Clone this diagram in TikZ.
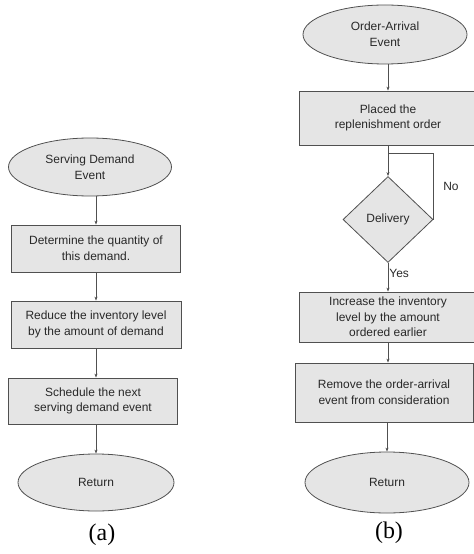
\documentclass[tikz,border=0pt]{standalone}
\usepackage{fontspec}
\setmainfont{Liberation Sans}
\newfontfamily\capfont{Liberation Serif}
\usepackage{tikz}
\usetikzlibrary{shapes.geometric,arrows.meta,positioning}

\definecolor{boxfill}{RGB}{229,229,229}
\definecolor{boxline}{RGB}{80,80,80}
\definecolor{boxtext}{RGB}{40,40,40}

\begin{document}
\begin{tikzpicture}[x=1bp,y=-1bp,
    every node/.style={font=\fontsize{12}{15.7}\selectfont, text=boxtext, align=center, inner sep=0pt},
    event/.style={ellipse, draw=boxline, fill=boxfill, line width=0.8pt},
    procbox/.style={rectangle, draw=boxline, fill=boxfill, line width=0.8pt},
    decide/.style={diamond, draw=boxline, fill=boxfill, line width=0.8pt, minimum width=90bp, minimum height=86bp},
    link/.style={draw=boxline, line width=0.8pt, -{Stealth[length=4pt,width=3pt]}},
    caption/.style={font=\capfont\fontsize{24}{28}\selectfont, text=black}]
    \useasboundingbox (0,0) rectangle (474,554);

    % (a) serving demand event
    \node[event, minimum width=163bp, minimum height=58bp] (serve) at (90,167) {Serving Demand\\Event};
    \node[procbox, minimum width=169bp, minimum height=47bp] (quant) at (96,248.5) {Determine the quantity of\\this demand.};
    \node[procbox, minimum width=170bp, minimum height=47bp] (reduce) at (96,324.5) {Reduce the inventory level\\by the amount of demand};
    \node[procbox, minimum width=169bp, minimum height=46bp] (sched) at (93,401) {Schedule the next\\serving demand event};
    \node[event, minimum width=156bp, minimum height=57bp] (retA) at (96,482.5) {Return};
    \node[caption] (capA) at (102,535) {(a)};

    \draw[link] (serve.south -| quant) -- (quant.north);
    \draw[link] (quant.south -| reduce) -- (reduce.north);
    \draw[link] (reduce.south) -- (reduce.south |- sched.north);
    \draw[link] (sched.south -| retA) -- (retA.north);

    % (b) order-arrival event
    \node[event, minimum width=164bp, minimum height=59bp] (arrive) at (385,34.5) {Order-Arrival\\Event};
    \node[procbox, minimum width=178bp, minimum height=54bp] (place) at (388,118) {Placed the\\replenishment order};
    \node[decide] (dlv) at (388,219.5) {Delivery};
    \coordinate (loop) at (388,153);
    \node[procbox, minimum width=178bp, minimum height=50bp] (incr) at (388,317) {Increase the inventory\\level by the amount\\ordered earlier};
    \node[procbox, minimum width=178bp, minimum height=59bp] (remove) at (384,392.5) {Remove the order-arrival\\event from consideration};
    \node[event, minimum width=164bp, minimum height=61bp] (retB) at (387,482.5) {Return};
    \node[caption] (capB) at (389,533) {(b)};

    \draw[link] (arrive.south -| place) -- (place.north);
    \draw[link] (place.south) -- (dlv.north);
    \draw[draw=boxline, line width=0.8pt] (dlv.east) |- (loop);
    \node (no) at (451,186) {No};
    \draw[link] (dlv.south) -- node[right=1bp, pos=0.38] (yes) {Yes} (incr.north);
    \draw[link] (incr.south) -- (incr.south |- remove.north);
    \draw[link] (remove.south -| retB) -- (retB.north);
\end{tikzpicture}
\end{document}
